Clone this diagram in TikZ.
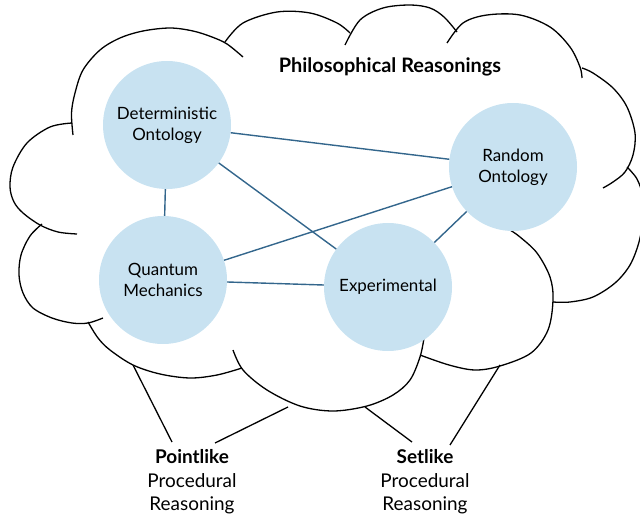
\documentclass[tikz,border=0pt]{standalone}
\usepackage{fontspec}
\setmainfont{Lato}
\definecolor{bubble}{HTML}{C8E2F1}
\definecolor{linkc}{HTML}{33668C}
\begin{document}
\begin{tikzpicture}[x=1bp,y=-1bp,
  cloudline/.style={draw=black,line width=1.3bp,smooth,tension=0.55},
  conn/.style={draw=linkc,line width=1.4bp},
  bubble/.style={circle,fill=bubble,minimum size=128bp,inner sep=0pt,align=center,
    font=\fontsize{17}{21}\selectfont},
  ttl/.style={font=\bfseries\fontsize{20}{22}\selectfont},
  lbl/.style={align=center,font=\fontsize{19}{23.5}\selectfont},
  leg/.style={draw=black,line width=1.3bp}]
\useasboundingbox (0,0) rectangle (640,517);
\clip (0,0) rectangle (640,517);
% cloud lobes
\draw[cloudline] plot coordinates {(73,135) (71.5,113) (75,93) (83,70) (100,50) (120,38) (143,31) (170,28) (193,31) (212,37) (227,44) (243,57)};
\draw[cloudline] plot coordinates {(72,123) (50,127) (27,143) (13,167) (10,187) (14,202) (23,213) (40,225) (58,232) (77,234)};
\draw[cloudline] plot coordinates {(42,224) (30,236) (21,255) (19,275) (23,293) (33,308) (52,318) (72,323) (88,323) (103,318)};
\draw[cloudline] plot coordinates {(88,322) (98,338) (110,350) (133,365) (160,374) (190,378) (217,375) (242,368)};
\draw[cloudline] plot coordinates {(233,350) (243,370) (267,390) (300,406) (333,411) (367,406) (393,395) (410,380) (420,357) (424,338)};
\draw[cloudline] plot coordinates {(420,355) (449,365) (475,370) (500,366) (531,353) (548,330) (553,300) (550,277) (537,253) (520,237) (510,230)};
\draw[cloudline] plot coordinates {(225,42) (243,23) (277,12) (310,13) (337,23) (350,33)};
\draw[cloudline] plot coordinates {(345,45) (360,20) (383,8) (410,5) (430,8) (444,17) (457,32)};
\draw[cloudline] plot coordinates {(447,43) (463,23) (487,15) (520,15) (550,27) (570,47) (580,67) (582,78)};
\draw[cloudline] plot coordinates {(582,68) (593,73) (613,88) (627,107) (635,133) (633,155) (625,172) (613,182) (603,188)};
\draw[cloudline] plot coordinates {(627,167) (637,179) (643,197) (643,218) (639,242) (630,265) (615,283) (593,297) (570,302) (553,302)};
% title
\node[ttl] (title) at (390,67) {Philosophical Reasonings};
% bubbles
\node[bubble] (det) at (167,125) {Deterministic\\Ontology};
\node[bubble] (rnd) at (513,167) {Random\\Ontology};
\node[bubble] (qm) at (163,280) {Quantum\\Mechanics};
\node[bubble] (exp) at (388,287) {Experimental};
% connectors
\draw[conn] (det) -- (rnd);
\draw[conn] (det) -- (qm);
\draw[conn] (det) -- (exp);
\draw[conn] (qm) -- (rnd);
\draw[conn] (qm) -- (exp);
\draw[conn] (rnd) -- (exp);
% bottom labels
\node[lbl] (point) at (192,482) {\textbf{Pointlike}\\Procedural\\Reasoning};
\node[lbl] (set) at (425,482) {\textbf{Setlike}\\Procedural\\Reasoning};
\coordinate (p1a) at (133,365);
\coordinate (p1b) at (172,442);
\coordinate (p2a) at (288,407);
\coordinate (p2b) at (215,443);
\coordinate (s1a) at (365,407);
\coordinate (s1b) at (412,442);
\coordinate (s2a) at (500,365);
\coordinate (s2b) at (450,445);
\draw[leg] (p1a) -- (p1b);
\draw[leg] (p2a) -- (p2b);
\draw[leg] (s1a) -- (s1b);
\draw[leg] (s2a) -- (s2b);
\end{tikzpicture}
\end{document}
